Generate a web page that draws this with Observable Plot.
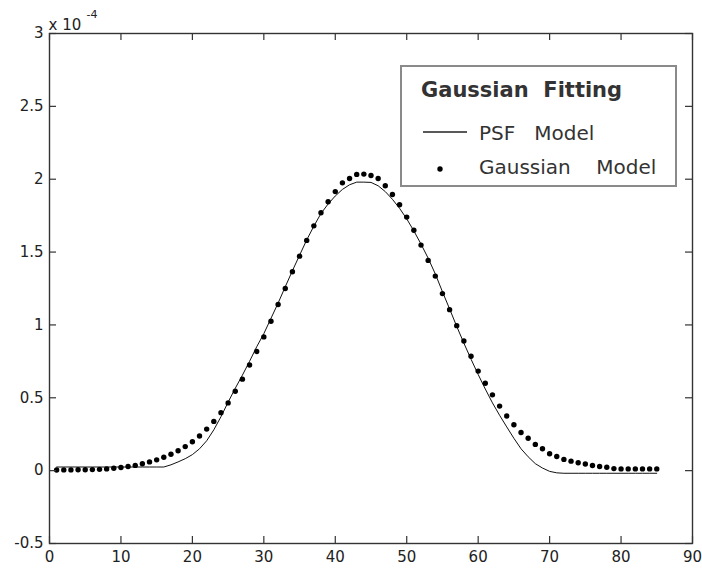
<!DOCTYPE html>
<html>
<head>
<meta charset="utf-8">
<script src="https://cdn.jsdelivr.net/npm/d3@7"></script>
<script src="https://cdn.jsdelivr.net/npm/@observablehq/plot@0.6"></script>
<style>
  html, body { margin: 0; padding: 0; background: #fff; }
  #wrap { position: relative; width: 702px; height: 570px; }
  #legend { position: absolute; left: 400px; top: 65px; }
  #legend text { white-space: pre; font-family: "DejaVu Sans", sans-serif; fill: #333; }
</style>
</head>
<body>
<div id="wrap">
  <svg id="legend" width="278" height="123" xmlns="http://www.w3.org/2000/svg">
    <rect x="1" y="1" width="275" height="120" fill="#fff" stroke="#8a8a8a" stroke-width="2"></rect>
    <text x="21" y="32" font-size="21" font-weight="bold">Gaussian  Fitting</text>
    <line x1="23" x2="67" y1="67" y2="67" stroke="#222" stroke-width="1.3"></line>
    <text x="79" y="75" font-size="20">PSF   Model</text>
    <circle cx="40" cy="104" r="2.7" fill="#000"></circle>
    <text x="79" y="109" font-size="20">Gaussian    Model</text>
  </svg>
</div>
<script>
const xTicks = [0, 10, 20, 30, 40, 50, 60, 70, 80, 90];
const yTicks = [-0.5, 0, 0.5, 1, 1.5, 2, 2.5, 3];

// sample positions (pixel index)
const sampleX = [1,2,3,4,5,6,7,8,9,10,11,12,13,14,15,16,17,18,19,20,
  21,22,23,24,25,26,27,28,29,30,31,32,33,34,35,36,37,38,39,40,
  41,42,43,44,45,46,47,48,49,50,51,52,53,54,55,56,57,58,59,60,
  61,62,63,64,65,66,67,68,69,70,71,72,73,74,75,76,77,78,79,80,
  81,82,83,84,85];

// Gaussian model (x 10^-4)
const gaussianY = [0.004,0.005,0.005,0.006,0.006,0.007,0.009,0.012,0.016,0.022,
  0.028,0.036,0.047,0.060,0.074,0.092,0.112,0.137,0.165,0.198,
  0.238,0.285,0.338,0.398,0.465,0.545,0.628,0.725,0.818,0.918,
  1.025,1.140,1.250,1.365,1.472,1.580,1.680,1.770,1.845,1.915,
  1.975,2.005,2.033,2.035,2.025,2.005,1.955,1.895,1.825,1.740,
  1.650,1.548,1.443,1.335,1.215,1.105,0.995,0.890,0.785,0.683,
  0.600,0.520,0.443,0.375,0.315,0.262,0.222,0.180,0.150,0.116,
  0.097,0.077,0.065,0.054,0.046,0.035,0.028,0.023,0.014,0.012,
  0.012,0.012,0.012,0.012,0.012];

// PSF model (x 10^-4)
const psfY = [0.025,0.025,0.025,0.025,0.025,0.025,0.025,0.025,0.025,0.025,
  0.025,0.025,0.025,0.025,0.025,0.025,0.040,0.060,0.082,0.110,
  0.150,0.205,0.280,0.370,0.470,0.565,0.655,0.750,0.850,0.940,
  1.045,1.150,1.262,1.372,1.478,1.583,1.678,1.765,1.830,1.885,
  1.930,1.962,1.980,1.980,1.978,1.955,1.915,1.862,1.800,1.728,
  1.645,1.555,1.458,1.350,1.228,1.110,0.990,0.875,0.765,0.660,
  0.560,0.465,0.380,0.300,0.222,0.150,0.095,0.048,0.018,-0.005,
  -0.015,-0.018,-0.018,-0.018,-0.018,-0.018,-0.018,-0.018,-0.018,-0.018,
  -0.018,-0.018,-0.018,-0.018,-0.018];

const gaussian = sampleX.map((x, i) => ({x, y: gaussianY[i]}));
const psf = sampleX.map((x, i) => ({x, y: psfY[i]}));

const W = 702, H = 570, mL = 49, mR = 10, mT = 33, mB = 27;
const innerW = W - mL - mR, innerH = H - mT - mB, tick = 7;
const axisColor = "#333";

const chart = Plot.plot({
  width: W, height: H,
  marginLeft: mL, marginRight: mR, marginTop: mT, marginBottom: mB,
  style: {fontFamily: "DejaVu Sans, sans-serif", fontSize: "15px", color: "#222", background: "#fff", overflow: "visible"},
  x: {domain: [xTicks[0], xTicks[xTicks.length - 1]], label: null},
  y: {domain: [yTicks[0], yTicks[yTicks.length - 1]], label: null},
  marks: [
    Plot.line(psf, {x: "x", y: "y", stroke: "#111", strokeWidth: 1}),
    Plot.dot(gaussian, {x: "x", y: "y", r: 2.7, fill: "#000", stroke: null}),
    Plot.tickX(xTicks, {x: d => d, insetTop: innerH - tick, stroke: axisColor, strokeWidth: 1.2}),
    Plot.tickX(xTicks, {x: d => d, insetBottom: innerH - tick, stroke: axisColor, strokeWidth: 1.2}),
    Plot.tickY(yTicks, {y: d => d, insetRight: innerW - tick, stroke: axisColor, strokeWidth: 1.2}),
    Plot.tickY(yTicks, {y: d => d, insetLeft: innerW - tick, stroke: axisColor, strokeWidth: 1.2}),
    Plot.frame({stroke: axisColor, strokeWidth: 1.4}),
    Plot.axisX(xTicks, {anchor: "bottom", tickSize: 0, tickPadding: 8, tickFormat: d => String(d), label: null}),
    Plot.axisY(yTicks, {anchor: "left", tickSize: 0, tickPadding: 6, tickFormat: d => String(d), label: null}),
    Plot.text(["x 10"], {frameAnchor: "top-left", textAnchor: "start", dx: -1, dy: -14, fontSize: 15, fill: "#222"}),
    Plot.text(["-4"], {frameAnchor: "top-left", textAnchor: "start", dx: 37, dy: -23, fontSize: 11, fill: "#222"})
  ]
});

document.getElementById("wrap").insertBefore(chart, document.getElementById("legend"));
</script>
</body>
</html>
